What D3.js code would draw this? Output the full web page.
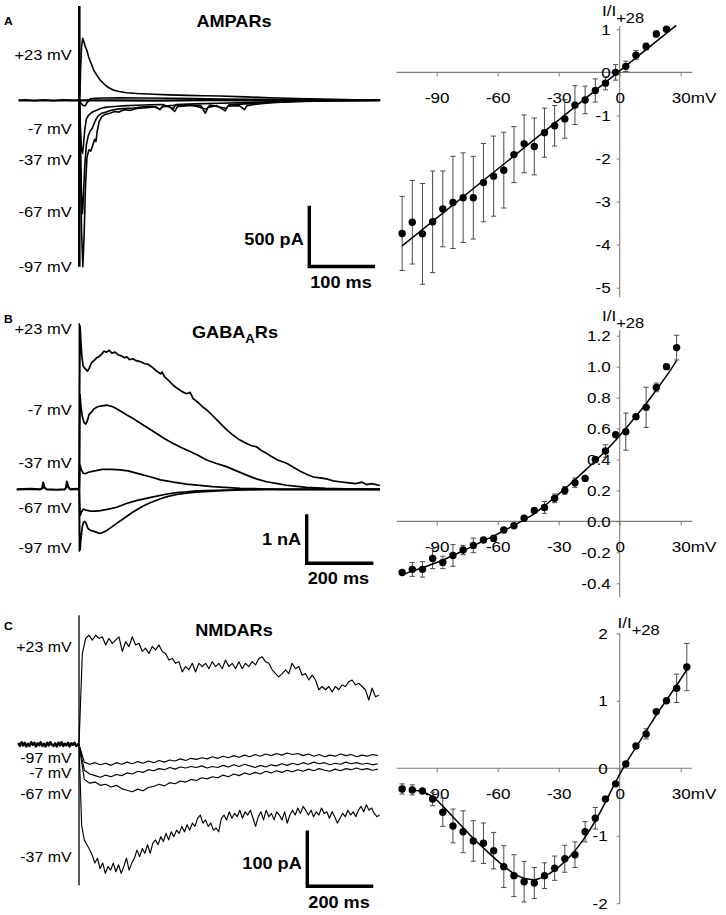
<!DOCTYPE html>
<html><head><meta charset="utf-8">
<script src="https://cdn.jsdelivr.net/npm/d3@7"></script>
<style>
body{margin:0;background:#fff}
svg{display:block}
text{font-family:"Liberation Sans",Arial,sans-serif}
</style>
</head><body>
<svg id="chart" width="726" height="915"></svg>
<script>
// ---------------- DATA ----------------
// I–V relations (normalised to I at +28 mV)
const ivVoltage=[-107,-102,-97,-92,-87,-82,-77,-72,-67,-62,-57,-52,-47,-42,-37,-32,-27,-22,-17,-12,-7,-2,3,8,13,18,23,28,33];
const ampaMean=[-3.74,-3.48,-3.75,-3.47,-3.17,-3.02,-2.91,-2.91,-2.56,-2.41,-2.27,-1.91,-1.66,-1.72,-1.40,-1.24,-1.08,-0.76,-0.64,-0.42,-0.25,0.0,0.14,0.40,0.60,0.89,1.0];
const ampaSem=[0.86,0.97,1.17,1.18,0.88,1.07,1.04,0.96,0.91,0.93,0.88,0.65,0.67,0.66,0.57,0.47,0.45,0.45,0.32,0.27,0.155,0.18,0.12,0.105,0.08,0.07,0.03];
const ampaFitV=[-107,27.8];
const ampaFit=[-4.03,1.09];
const gabaMean=[-0.33,-0.31,-0.31,-0.24,-0.265,-0.22,-0.185,-0.155,-0.12,-0.11,-0.056,-0.028,0.02,0.07,0.09,0.149,0.20,0.25,0.278,0.40,0.455,0.56,0.58,0.677,0.737,0.866,1.0,1.123];
const gabaSem=[0,0.045,0.05,0.065,0.04,0.07,0.03,0.047,0.016,0.02,0,0,0,0,0.038,0.028,0.025,0.03,0,0,0.04,0,0.12,0,0.13,0.028,0,0.08];
const gabaFitV=ivVoltage.slice(0,28);
const gabaFit=[-0.35,-0.32,-0.30,-0.275,-0.25,-0.22,-0.19,-0.16,-0.125,-0.095,-0.06,-0.025,0.01,0.05,0.10,0.155,0.21,0.27,0.33,0.39,0.455,0.525,0.60,0.68,0.76,0.85,0.94,1.04];
const nmdaMean=[-0.306,-0.32,-0.336,-0.454,-0.65,-0.854,-0.94,-1.077,-1.11,-1.22,-1.457,-1.59,-1.68,-1.70,-1.59,-1.48,-1.34,-1.28,-0.94,-0.74,-0.454,-0.23,0.064,0.33,0.51,0.84,1.0,1.185,1.50];
const nmdaSem=[0.075,0.075,0,0.1,0.21,0.25,0.31,0.3,0.3,0.27,0.31,0.31,0.3,0.23,0.19,0.18,0.2,0.19,0.15,0.16,0,0,0,0,0.075,0,0,0.21,0.35];
const nmdaFitV=ivVoltage.slice(1,29);
const nmdaFit=[-0.32,-0.345,-0.42,-0.56,-0.72,-0.88,-1.04,-1.18,-1.32,-1.45,-1.56,-1.63,-1.65,-1.60,-1.51,-1.38,-1.22,-1.02,-0.78,-0.50,-0.20,0.07,0.31,0.55,0.79,1.01,1.23,1.46];
const ivXTicks=[-90,-60,-30,0,30];
const ampaYTicks=[1,0,-1,-2,-3,-4,-5];
const gabaYTicks=[1.2,1.0,0.8,0.6,0.4,0.2,0.0,-0.2,-0.4];
const nmdaYTicks=[2,1,0,-1,-2];

// Current traces: [time ms, current]
// A: AMPAR currents (pA)
const ampaBaseline=[[-95,0],[-85,2],[-70,-2],[-55,1],[-40,-2],[-25,2],[-10,-1],[0,0],[50,0],[120,-2],[200,1],[280,-1],[360,1],[420,-1],[470,0]];
const ampaP23=[[0,0],[1,60],[2,250],[3.5,450],[5.3,525],[7,500],[9,460],[11.6,426],[15,360],[19.4,299],[23,250],[27.2,214],[32,175],[37.5,144],[45,110],[53,87],[62,74],[74,64],[90,57],[116,51],[140,46],[168,42],[195,39],[220,36],[260,29],[298,22],[340,15],[397,8],[430,5],[470,3]];
const ampaM7=[[0,0],[2,-20],[5,-40],[9,-48],[12,-20],[16.7,12],[25,18],[40,20],[63.6,22],[100,20],[142,17],[180,14],[220,11],[298,8],[360,4],[420,1],[470,0]];
const ampaM37=[[0,0],[1.5,-200],[3.5,-420],[5,-450],[6.5,-380],[8.5,-250],[11,-160],[14,-130],[18,-110],[22,-95],[27,-85],[33,-70],[40,-60],[50,-55],[60,-50],[75,-45],[90,-42],[110,-38],[130,-36],[147,-70],[151,-35],[180,-30],[220,-25],[260,-20],[300,-12],[350,-6],[400,-2],[470,0]];
const ampaM67=[[0,0],[1.5,-300],[3.5,-800],[5,-960],[6.5,-800],[8.5,-560],[11,-380],[14,-300],[17,-260],[20,-240],[23,-200],[26,-160],[30,-130],[35,-110],[42,-100],[50,-85],[60,-75],[70,-70],[85,-65],[100,-55],[115,-50],[126,-75],[131,-48],[150,-42],[175,-40],[199,-75],[204,-40],[230,-70],[234,-38],[260,-30],[290,-20],[330,-12],[400,-4],[470,0]];
const ampaM97=[[0,0],[1.5,-400],[3.5,-1100],[5.5,-1410],[7.5,-1150],[9.5,-750],[12,-480],[15,-420],[18,-430],[21,-380],[24,-330],[26,-350],[28,-260],[31,-180],[35,-140],[40,-120],[48,-110],[55,-95],[62,-100],[70,-80],[80,-85],[90,-70],[100,-65],[110,-60],[120,-55],[126,-80],[130,-55],[140,-50],[149,-95],[153,-55],[170,-45],[190,-45],[197,-110],[201,-60],[215,-45],[228,-90],[232,-50],[250,-45],[258,-80],[262,-45],[280,-30],[300,-20],[340,-10],[400,-3],[470,0]];
const ampaArtifact=[800,-1410];

// B: GABA-A receptor currents (nA)
const gabaBaseline=[[-193,0],[-150,0.01],[-120,0],[-114,0.02],[-111,0.14],[-107,0.03],[-100,0],[-70,-0.01],[-45,0],[-41,0.03],[-38,0.16],[-34,0.05],[-28,0],[-10,0.01],[0,0]];
const gabaP23=[[0,0],[1,2.0],[2.5,3.45],[5,3.1],[8,2.8],[12,2.6],[18,2.55],[25,2.5],[30,2.55],[38,2.68],[45,2.72],[53,2.78],[60,2.8],[68,2.85],[76,2.92],[84,2.9],[92,2.94],[100,2.88],[110,2.9],[120,2.84],[130,2.82],[140,2.78],[146,2.80],[155,2.74],[165,2.76],[175,2.72],[187,2.70],[200,2.66],[212,2.64],[225,2.58],[238,2.50],[250,2.44],[255,2.48],[262,2.38],[275,2.30],[289,2.20],[300,2.14],[315,2.07],[330,2.02],[341,2.05],[350,1.92],[365,1.84],[380,1.74],[392,1.68],[410,1.56],[430,1.42],[453,1.26],[470,1.16],[490,1.06],[515,0.97],[530,0.92],[545,0.90],[560,0.82],[576,0.76],[590,0.70],[610,0.62],[638,0.55],[660,0.46],[680,0.38],[699,0.32],[720,0.26],[740,0.24],[761,0.22],[780,0.18],[800,0.16],[823,0.14],[850,0.12],[870,0.15],[884,0.1],[900,0.12],[925,0.08]];
const gabaM7=[[0,0],[1,1.2],[2.5,2.0],[5,1.75],[9,1.55],[14,1.42],[20,1.38],[25,1.45],[30,1.58],[36,1.62],[45,1.70],[55,1.74],[65,1.76],[75,1.77],[85,1.78],[95,1.76],[105,1.74],[120,1.68],[135,1.62],[146,1.57],[165,1.50],[187,1.40],[210,1.30],[238,1.18],[260,1.08],[289,0.97],[315,0.88],[341,0.80],[365,0.72],[392,0.62],[420,0.55],[453,0.48],[480,0.40],[515,0.30],[545,0.22],[576,0.16],[610,0.12],[638,0.085],[670,0.06],[699,0.04],[760,0.02],[820,0.01],[925,0]];
const gabaM37=[[0,0],[1,0.3],[2.5,0.51],[6,0.42],[12,0.34],[18,0.33],[28,0.36],[40,0.38],[55,0.40],[70,0.42],[85,0.42],[100,0.42],[125,0.41],[150,0.39],[187,0.32],[220,0.26],[250,0.20],[290,0.15],[330,0.11],[370,0.085],[410,0.056],[460,0.035],[495,0.02],[560,0.01],[620,0],[925,0]];
const gabaM67=[[0,0],[1,-0.3],[3,-0.55],[7,-0.48],[12,-0.42],[20,-0.44],[35,-0.46],[50,-0.46],[65,-0.45],[90,-0.42],[115,-0.38],[145,-0.3],[175,-0.24],[220,-0.17],[270,-0.1],[300,-0.07],[330,-0.055],[360,-0.035],[420,-0.02],[500,-0.01],[600,0],[925,0]];
const gabaM97=[[0,0],[1,-0.9],[2.5,-1.28],[5,-1.05],[9,-0.8],[13,-0.7],[17,-0.68],[21,-0.72],[26,-0.82],[32,-0.86],[40,-0.88],[50,-0.9],[60,-0.93],[70,-0.92],[82,-0.88],[95,-0.82],[115,-0.72],[140,-0.6],[165,-0.48],[195,-0.36],[220,-0.28],[250,-0.2],[270,-0.155],[300,-0.11],[330,-0.08],[360,-0.06],[400,-0.045],[440,-0.03],[500,-0.015],[560,0],[925,0]];
const gabaArtifact=[3.51,-1.32];

// C: NMDAR currents (pA), sampled traces
const nmdaBaseT0=-189, nmdaBaseDt=5;
const nmdaBaseline=[2,-3,4,-2,3,-4,1,-3,4,-1,3,-4,2,-2,4,-3,1,-4,3,-2,4,-1,-3,2,-4,3,-2,4,-3,1,-2,3,-4,2,-1,3,-3,0];
const nmdaP23Dt=10.36;
const nmdaP23=[0,168,196,202,193,202,196,199,184,196,187,193,199,172,190,181,199,184,187,172,178,168,181,175,184,172,168,156,159,150,153,134,144,138,150,134,150,144,150,140,153,144,150,140,156,144,150,140,153,140,150,144,153,147,159,162,153,150,138,131,125,131,138,131,150,140,144,128,131,119,128,119,101,107,101,107,97,107,101,110,107,116,119,110,113,107,101,82,104,88,91];
const nmdaSmallDt=16.6;
const nmdaM97=[0,-33,-37,-34,-38,-35,-39,-34,-37,-33,-36,-32,-35,-31,-34,-30,-33,-29,-31,-27,-30,-26,-28,-25,-27,-23,-26,-22,-25,-21,-24,-20,-23,-19,-22,-18,-21,-17,-20,-16,-19,-17,-21,-18,-22,-19,-23,-20,-22,-18,-21,-19,-23,-20,-22,-19,-21];
const nmdaM7=[0,-48,-55,-58,-61,-57,-60,-56,-58,-53,-55,-50,-52,-47,-49,-45,-47,-43,-46,-42,-44,-41,-43,-40,-44,-41,-43,-39,-42,-38,-41,-37,-40,-43,-39,-42,-38,-40,-36,-39,-35,-38,-34,-37,-33,-36,-34,-38,-35,-37,-33,-36,-34,-37,-35,-38,-36];
const nmdaM67=[0,-65,-72,-70,-76,-74,-79,-76,-82,-85,-88,-83,-86,-80,-78,-74,-77,-71,-73,-68,-70,-65,-67,-62,-64,-60,-62,-57,-60,-55,-58,-53,-56,-52,-55,-50,-53,-49,-52,-48,-51,-47,-50,-46,-49,-45,-48,-50,-46,-49,-45,-47,-44,-47,-45,-48,-46];
const nmdaM37Dt=8.2;
const nmdaM37=[0,-150,-177,-186,-195,-205,-220,-211,-230,-220,-239,-226,-233,-220,-236,-223,-239,-226,-211,-233,-220,-211,-196,-208,-193,-202,-186,-202,-183,-177,-186,-171,-180,-165,-177,-162,-171,-159,-165,-152,-162,-149,-159,-146,-152,-137,-131,-146,-140,-152,-146,-159,-155,-162,-137,-131,-140,-125,-137,-128,-134,-122,-137,-125,-131,-122,-137,-152,-134,-125,-140,-122,-134,-128,-140,-125,-131,-140,-125,-146,-131,-122,-131,-118,-128,-115,-122,-131,-122,-134,-125,-131,-118,-128,-125,-137,-125,-134,-146,-137,-128,-134,-122,-131,-125,-134,-122,-115,-125,-112,-122,-118,-128,-134,-131];
const nmdaArtifact=[239,-261];

const labelsAB=["+23 mV","-7 mV","-37 mV","-67 mV","-97 mV"];
const labelsC=["+23 mV","-97 mV","-7 mV","-67 mV","-37 mV"];

// ---------------- DRAWING ----------------
const svg=d3.select("#chart");
const FONT='"Liberation Sans",Arial,sans-serif';
const WIDEN=1.1; // the reference lettering is slightly wider than Arial
const sampled=(vals,dt,t0)=>vals.map((v,i)=>[t0+i*dt,v]);

function drawIV(p){
  const g=svg.append("g");
  const x=d3.scaleLinear().domain([-90,30]).range([436.7,680.7]);
  const y=d3.scaleLinear().domain(p.yDom).range(p.yRange);
  const axisCol="#7d7d7d";
  g.append("line").attr("x1",x(-109.7)).attr("x2",x(35.7)).attr("y1",y(0)).attr("y2",y(0)).attr("stroke",axisCol).attr("stroke-width",1.1);
  g.append("line").attr("x1",x(0)).attr("x2",x(0)).attr("y1",y(p.yExt[1])).attr("y2",y(p.yExt[0])).attr("stroke",axisCol).attr("stroke-width",1.1);
  const xa=g.append("g").attr("transform",`translate(0,${y(0)})`)
    .call(d3.axisBottom(x).tickValues(ivXTicks).tickSize(4).tickPadding(16).tickFormat(d=>String(d)));
  xa.select(".domain").remove();
  xa.attr("font-size",15.5).attr("font-family",FONT);
  xa.selectAll("line").attr("stroke",axisCol);
  xa.selectAll("text").attr("fill","#000");
  g.append("text").attr("x",x(30)+10).attr("y",y(0)+31).attr("font-size",15.5).text("mV");
  const ya=g.append("g").attr("transform",`translate(${x(0)},0)`)
    .call(d3.axisLeft(y).tickValues(p.yTicks).tickSize(3).tickPadding(p.yPad).tickFormat(p.fmt));
  ya.select(".domain").remove();
  ya.attr("font-size",15.5).attr("font-family",FONT);
  ya.selectAll("line").attr("stroke",axisCol);
  ya.selectAll("text").attr("fill","#000");
  // label
  const lab=g.append("text").attr("x",p.labX).attr("y",p.labY).attr("font-size",15.5);
  lab.append("tspan").text("I/I");
  lab.append("tspan").attr("dy",7).attr("font-size",15).text("+28");
  // error bars
  const pts=p.mean.map((m,i)=>({v:ivVoltage[i],m,s:p.sem[i]}));
  const eb=g.append("g").attr("stroke","#4a4a4a").attr("stroke-width",1);
  pts.filter(d=>d.s>0).forEach(d=>{
    eb.append("line").attr("x1",x(d.v)).attr("x2",x(d.v)).attr("y1",y(d.m-d.s)).attr("y2",y(d.m+d.s));
    eb.append("line").attr("x1",x(d.v)-2.6).attr("x2",x(d.v)+2.6).attr("y1",y(d.m-d.s)).attr("y2",y(d.m-d.s));
    eb.append("line").attr("x1",x(d.v)-2.6).attr("x2",x(d.v)+2.6).attr("y1",y(d.m+d.s)).attr("y2",y(d.m+d.s));
  });
  // fit
  const fit=p.fitV.map((v,i)=>[v,p.fit[i]]);
  g.append("path").attr("d",d3.line().x(d=>x(d[0])).y(d=>y(d[1])).curve(d3.curveMonotoneX)(fit))
    .attr("fill","none").attr("stroke","#000").attr("stroke-width",1.5);
  g.selectAll("circle.pt").data(pts).enter().append("circle")
    .attr("cx",d=>x(d.v)).attr("cy",d=>y(d.m)).attr("r",3.7).attr("fill","#000");
}

drawIV({yDom:[-5,1],yRange:[287.7,29.3],yExt:[-5.22,1.07],yTicks:ampaYTicks,yPad:6,fmt:d=>String(d),
  labX:602,labY:16.5,mean:ampaMean,sem:ampaSem,fitV:ampaFitV,fit:ampaFit});
drawIV({yDom:[-0.4,1.2],yRange:[583.3,335.7],yExt:[-0.49,1.237],yTicks:gabaYTicks,yPad:6,fmt:d=>d.toFixed(1),
  labX:602,labY:321.5,mean:gabaMean,sem:gabaSem,fitV:gabaFitV,fit:gabaFit});
drawIV({yDom:[-2,2],yRange:[903.3,633.3],yExt:[-2.01,2.0],yTicks:nmdaYTicks,yPad:9,fmt:d=>String(d),
  labX:617.5,labY:628,mean:nmdaMean,sem:nmdaSem,fitV:nmdaFitV,fit:nmdaFit});

function drawTraces(p){
  const g=svg.append("g");
  const x=d3.scaleLinear().domain([0,p.xUnit]).range([p.x0,p.x0+p.xUnitPx]);
  const y=d3.scaleLinear().domain([0,p.yUnit]).range([p.y0,p.y0-p.yUnitPx]);
  const line=d3.line().x(d=>x(d[0])).y(d=>y(d[1]));
  g.append("path").attr("d",line(p.baseline)).attr("fill","none").attr("stroke","#000").attr("stroke-width",p.baseW).attr("stroke-linejoin","round");
  p.traces.forEach(tr=>{
    g.append("path").attr("d",line(tr)).attr("fill","none").attr("stroke","#000").attr("stroke-width",p.traceW).attr("stroke-linejoin","round");
  });
  g.append("line").attr("x1",x(0)).attr("x2",x(0)).attr("y1",y(p.artifact[0])).attr("y2",y(p.artifact[1]))
    .attr("stroke","#000").attr("stroke-width",p.artW);
  // scale bar
  const sb=p.sb;
  const vLen=y(0)-y(p.yUnit), hLen=x(p.xUnit)-x(0);
  g.append("path").attr("d",`M${sb.x},${sb.y-vLen}L${sb.x},${sb.y}L${sb.x+hLen},${sb.y}`)
    .attr("fill","none").attr("stroke","#000").attr("stroke-width",3.4).attr("stroke-linecap","square");
  g.append("text").attr("x",sb.x-5.5).attr("y",sb.ly).attr("text-anchor","end").attr("font-weight","bold").attr("font-size",16.5).text(p.yLabel);
  g.append("text").attr("x",sb.x+1).attr("y",sb.ty).attr("font-weight","bold").attr("font-size",16.5).text(p.xLabel);
  // voltage labels
  p.labels.forEach((t,i)=>{
    g.append("text").attr("x",71.7).attr("y",p.labelY[i]).attr("dy","0.36em").attr("text-anchor","end").attr("font-size",p.labFs).text(t);
  });
  g.append("text").attr("x",4).attr("y",p.letterY).attr("font-weight","bold").attr("font-size",11).text(p.letter);
}

drawTraces({x0:79.3,xUnit:100,xUnitPx:64,y0:100.3,yUnit:500,yUnitPx:59,
  baseline:ampaBaseline,baseW:2.2,traces:[ampaP23,ampaM7,ampaM37,ampaM67,ampaM97],traceW:1.6,
  artifact:ampaArtifact,artW:2.6,sb:{x:309.3,y:266.5,ly:245,ty:288},yLabel:"500 pA",xLabel:"100 ms",
  labels:labelsAB,labelY:[54.5,128.3,159.5,212,266.7],labFs:15,letter:"A",letterY:25});
drawTraces({x0:79.3,xUnit:200,xUnitPx:65,y0:489.3,yUnit:1,yUnitPx:47.3,
  baseline:gabaBaseline,baseW:2.2,traces:[gabaP23,gabaM7,gabaM37,gabaM67,gabaM97],traceW:1.7,
  artifact:gabaArtifact,artW:1.5,sb:{x:306.7,y:563.3,ly:545,ty:584},yLabel:"1 nA",xLabel:"200 ms",
  labels:labelsAB,labelY:[329,410,463,508,547.7],labFs:15,letter:"B",letterY:322.7});
drawTraces({x0:79,xUnit:200,xUnitPx:64.3,y0:744.3,yUnit:100,yUnitPx:54,
  baseline:sampled(nmdaBaseline,nmdaBaseDt,nmdaBaseT0).concat([[0,0]]),baseW:2.4,
  traces:[sampled(nmdaP23,nmdaP23Dt,0),sampled(nmdaM97,nmdaSmallDt,0),sampled(nmdaM7,nmdaSmallDt,0),sampled(nmdaM67,nmdaSmallDt,0),sampled(nmdaM37,nmdaM37Dt,0)],traceW:1.15,
  artifact:nmdaArtifact,artW:1.3,sb:{x:307.3,y:886.3,ly:869.3,ty:907.7},yLabel:"100 pA",xLabel:"200 ms",
  labels:labelsC,labelY:[646.7,757.5,773,794,857],labFs:14.5,letter:"C",letterY:630});

// titles
svg.append("text").attr("x",234).attr("y",26.7).attr("text-anchor","middle").attr("font-weight","bold").attr("font-size",16.5).text("AMPARs");
const gt=svg.append("text").attr("x",235).attr("y",338.3).attr("text-anchor","middle").attr("font-weight","bold").attr("font-size",16.5);
gt.append("tspan").text("GABA");
gt.append("tspan").attr("dy",5).attr("font-size",12).text("A");
gt.append("tspan").attr("dy",-5).text("Rs");
svg.append("text").attr("x",234).attr("y",636).attr("text-anchor","middle").attr("font-weight","bold").attr("font-size",16.5).text("NMDARs");

// widen every text horizontally about its own anchor point
svg.selectAll("text").each(function(){
  const ax=+(this.getAttribute("x")||0);
  this.setAttribute("transform",`translate(${ax},0) scale(${WIDEN},1) translate(${-ax},0)`);
});
</script>
</body></html>
